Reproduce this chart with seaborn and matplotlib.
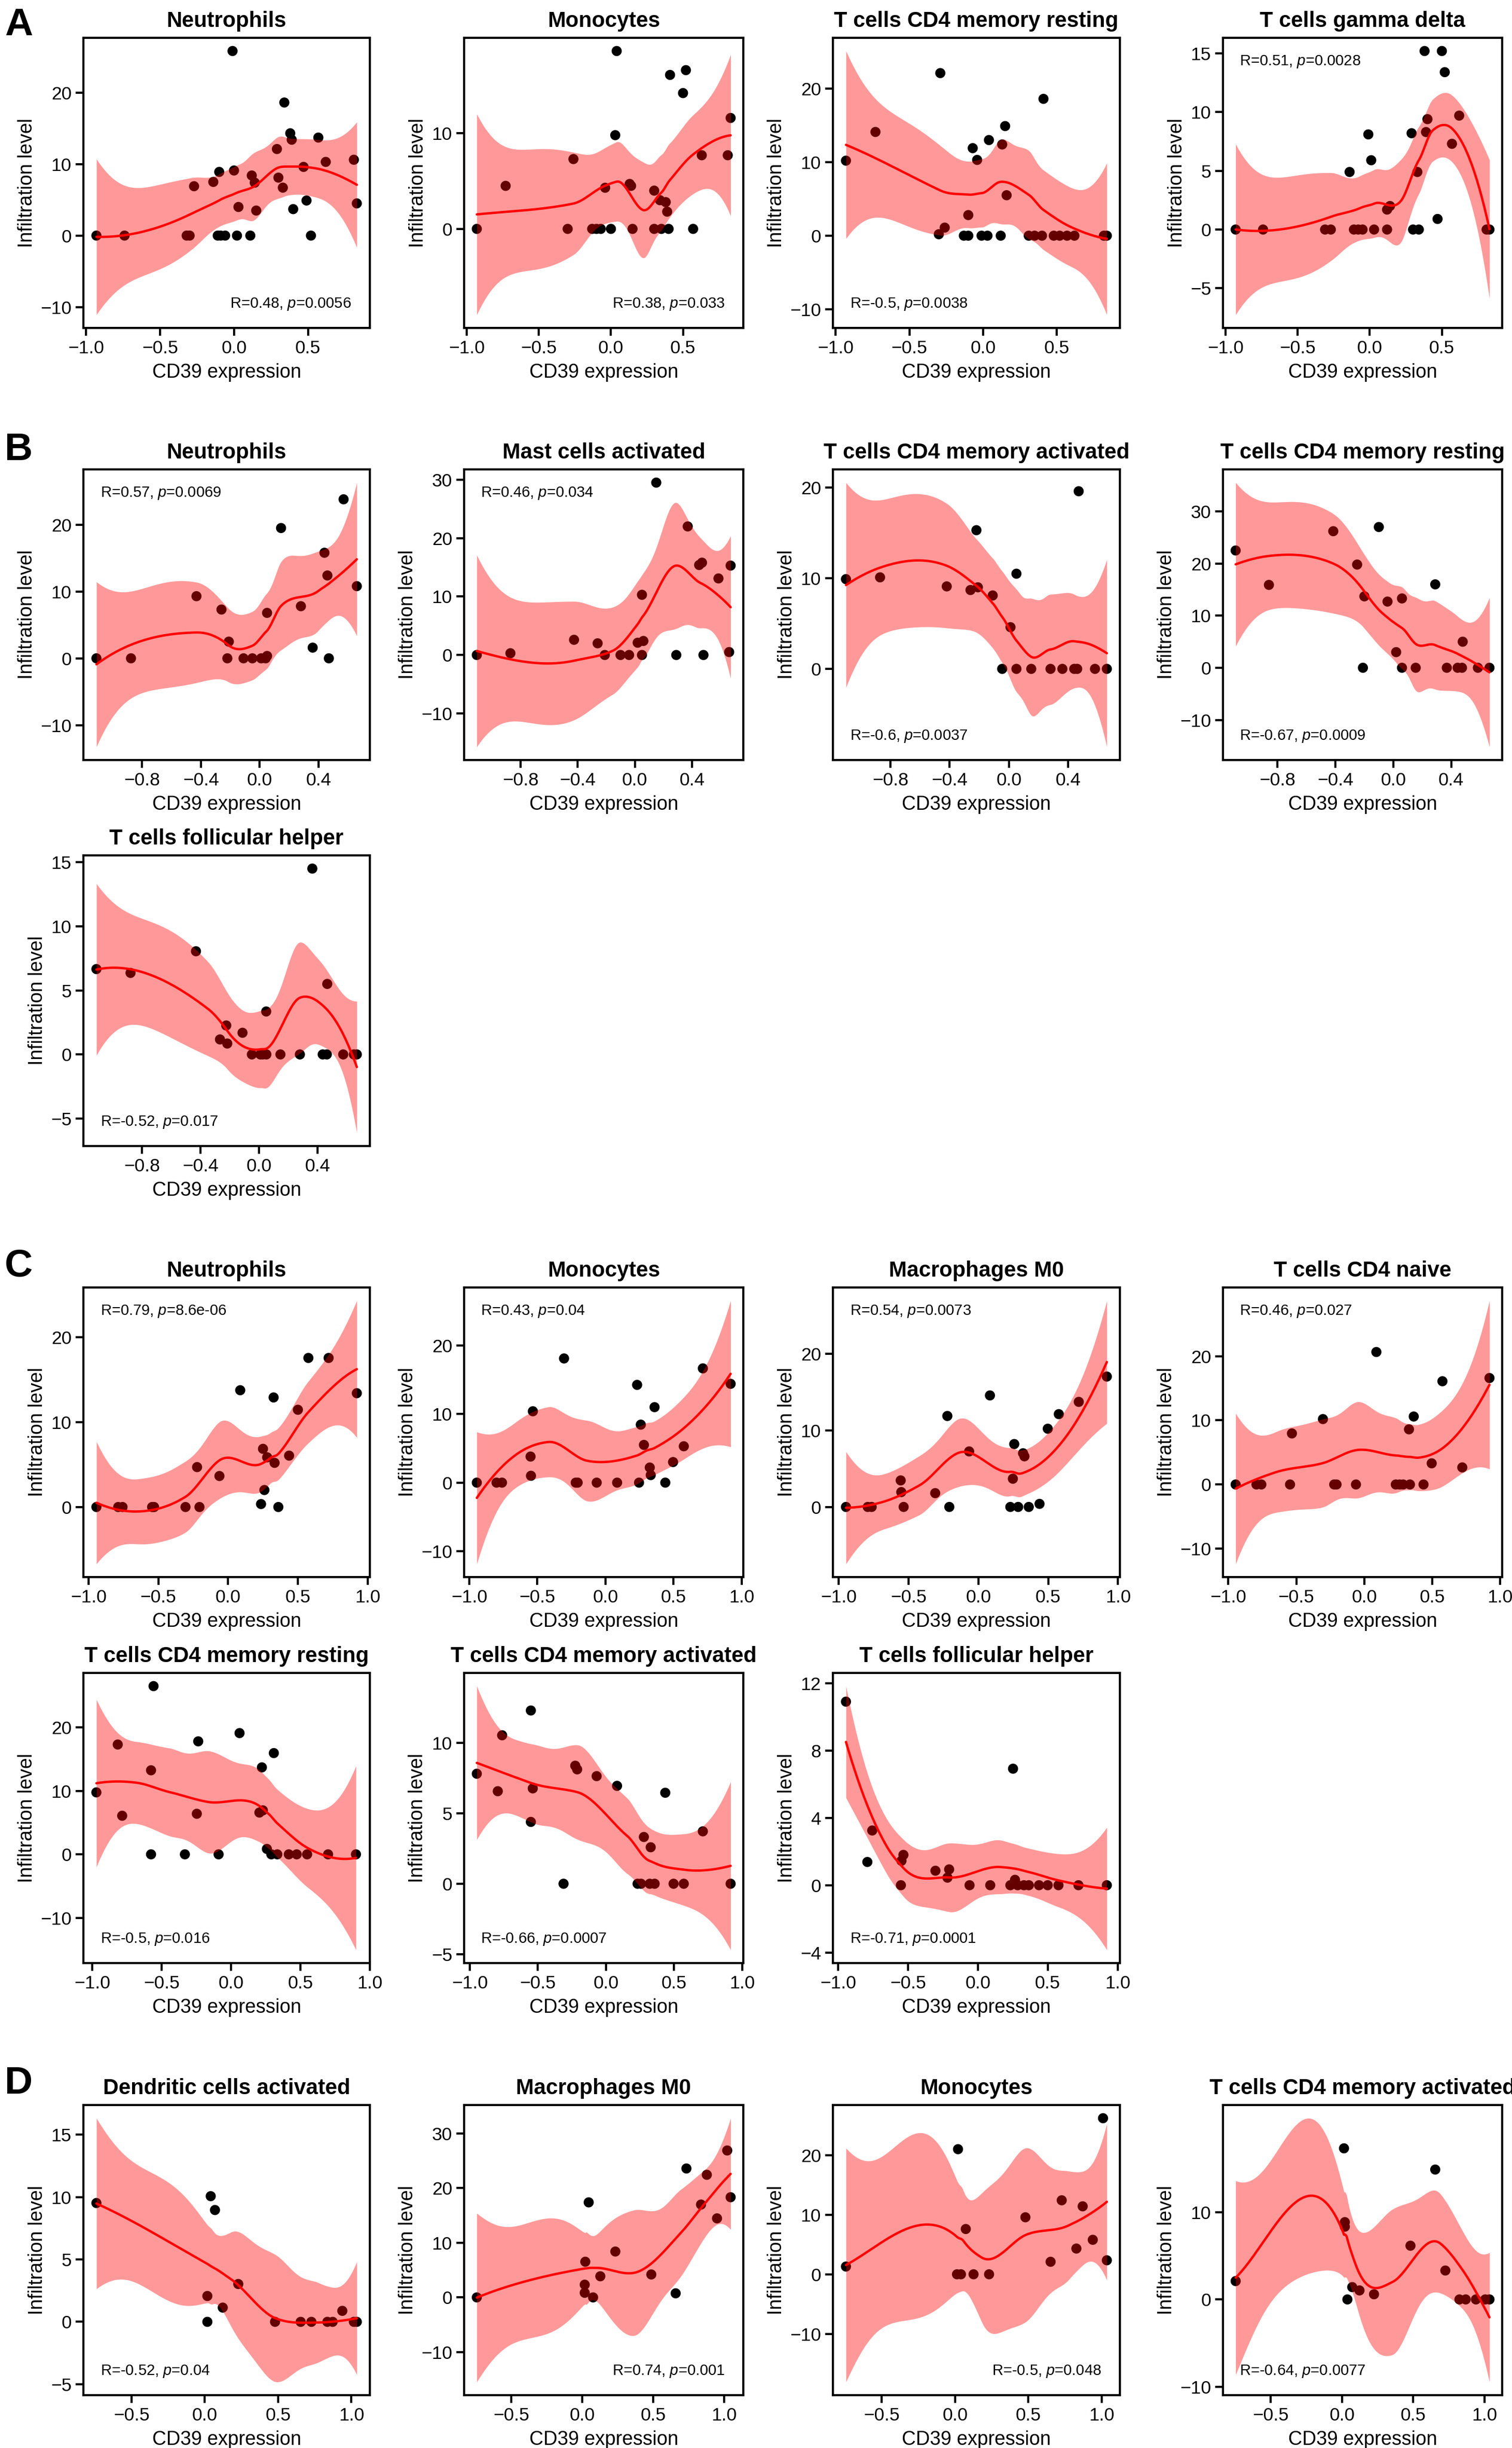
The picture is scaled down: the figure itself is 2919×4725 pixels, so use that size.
import numpy as np
import pandas as pd
import seaborn as sns
import matplotlib
matplotlib.use("Agg")
import matplotlib.pyplot as plt

# ---- data (CD39 expression vs infiltration level) ----
# A
a1_x = [-0.93, -0.74, -0.32, -0.30, -0.27, -0.14, -0.10, -0.11, -0.09, -0.06, 0.00, -0.01, 0.02, 0.03, 0.11, 0.12,
        0.14, 0.15, 0.29, 0.30, 0.33, 0.34, 0.38, 0.39, 0.40, 0.47, 0.49, 0.52, 0.57, 0.62, 0.81, 0.83]
a1_y = [0, 0, 0, 0, 6.9, 7.5, 8.9, 0, 0, 0, 9.1, 25.8, 0, 4.0, 0, 8.4,
        7.4, 3.5, 12.1, 8.1, 6.7, 18.6, 14.3, 13.4, 3.7, 9.6, 4.9, 0, 13.7, 10.3, 10.6, 4.5]
a2_x = [-0.93, -0.73, -0.30, -0.26, -0.13, -0.10, -0.07, -0.04, 0.00, 0.03, 0.04, 0.13, 0.14, 0.15,
        0.30, 0.30, 0.34, 0.35, 0.38, 0.39, 0.40, 0.41, 0.50, 0.52, 0.57, 0.63, 0.81, 0.83]
a2_y = [0, 4.5, 0, 7.3, 0, 0, 0, 4.3, 0, 9.8, 18.6, 4.7, 4.5, 0,
        0, 4.0, 3.0, 0, 2.8, 1.8, 0, 16.1, 14.2, 16.6, 0, 7.7, 7.7, 11.6]
a3_x = [-0.93, -0.73, -0.30, -0.29, -0.26, -0.13, -0.10, -0.10, -0.07, -0.04, -0.01, 0.03, 0.04, 0.12,
        0.13, 0.15, 0.16, 0.31, 0.35, 0.40, 0.41, 0.48, 0.52, 0.57, 0.62, 0.82, 0.84]
a3_y = [10.2, 14.1, 0.2, 22.1, 1.1, 0, 0, 2.8, 11.9, 10.3, 0, 0, 13.0, 0,
        12.4, 14.9, 5.5, 0, 0, 0, 18.6, 0, 0, 0, 0, 0, 0]
a4_x = [-0.93, -0.74, -0.31, -0.27, -0.14, -0.11, -0.08, -0.05, -0.01, 0.01, 0.03, 0.12, 0.12, 0.14,
        0.29, 0.30, 0.33, 0.34, 0.38, 0.39, 0.40, 0.47, 0.50, 0.52, 0.57, 0.62, 0.81, 0.83]
a4_y = [0, 0, 0, 0, 4.9, 0, 0, 0, 8.1, 5.9, 0, 0, 1.7, 2.0,
        8.2, 0, 4.9, 0, 15.2, 8.3, 9.4, 0.9, 15.2, 13.4, 7.3, 9.7, 0, 0]
# B
b1_x = [-1.11, -0.875, -0.43, -0.26, -0.21, -0.22, -0.11, -0.05, 0.01, 0.04,
        0.05, 0.05, 0.145, 0.28, 0.36, 0.44, 0.46, 0.47, 0.57, 0.66]
b1_y = [0, 0, 9.3, 7.3, 2.5, 0, 0, 0, 0, 0, 0.35, 6.8, 19.5, 7.8, 1.6, 15.8, 12.4, 0, 23.8, 10.8]
b2_x = [-1.105, -0.87, -0.425, -0.26, -0.21, -0.10, -0.04, 0.02, 0.05, 0.06,
        0.05, 0.15, 0.29, 0.37, 0.45, 0.47, 0.48, 0.585, 0.66, 0.67]
b2_y = [0, 0.3, 2.6, 2.0, 0, 0, 0, 2.1, 0, 2.4, 10.3, 29.5, 0, 22.0, 15.4, 15.8, 0, 13.1, 0.5, 15.3]
b3_x = [-1.10, -0.87, -0.42, -0.26, -0.22, -0.21, -0.11, -0.046, 0.01, 0.05,
        0.05, 0.15, 0.28, 0.36, 0.44, 0.46, 0.47, 0.58, 0.66]
b3_y = [9.9, 10.1, 9.1, 8.7, 15.3, 9.0, 8.1, 0, 4.6, 10.5, 0, 0, 0, 0, 0, 0, 19.6, 0, 0]
b4_x = [-1.09, -0.86, -0.415, -0.25, -0.21, -0.20, -0.10, -0.04, 0.02, 0.06,
        0.06, 0.155, 0.29, 0.37, 0.445, 0.475, 0.48, 0.585, 0.665]
b4_y = [22.5, 15.9, 26.2, 19.8, 0, 13.7, 27.0, 12.7, 3.0, 13.3, 0, 0, 16.0, 0, 0, 0, 5.0, 0, 0]
b5_x = [-1.11, -0.877, -0.43, -0.266, -0.223, -0.216, -0.112, -0.048, 0.01, 0.026, 0.051,
        0.05, 0.147, 0.28, 0.365, 0.436, 0.464, 0.467, 0.576, 0.649, 0.669]
b5_y = [6.66, 6.36, 8.05, 1.17, 2.26, 0.85, 1.69, 0, 0, 0, 0, 3.35, 0, 0, 14.5, 0, 0, 5.5, 0, 0, 0]
# C
c1_x = [-0.943, -0.787, -0.756, -0.544, -0.53, -0.305, -0.222, -0.205, -0.062, 0.087, 0.236,
        0.25, 0.26, 0.28, 0.326, 0.333, 0.36, 0.437, 0.5, 0.575, 0.72, 0.922]
c1_y = [0, 0, 0, 0, 0, 0, 4.7, 0, 3.65, 13.75, 0.35, 6.85, 2.0, 5.85, 12.9, 5.2, 0, 6.05, 11.45, 17.55, 17.55, 13.4]
c2_x = [-0.945, -0.80, -0.76, -0.547, -0.55, -0.533, -0.304, -0.218, -0.204, -0.064, 0.086, 0.233,
        0.247, 0.26, 0.283, 0.326, 0.333, 0.361, 0.44, 0.497, 0.576, 0.716, 0.92]
c2_y = [0, 0, 0, 1.0, 3.8, 10.4, 18.1, 0, 0, 0, 0, 14.25, 0, 8.45, 5.5, 2.2, 1.1, 11.0, 0, 3.0, 5.3, 16.65, 14.4]
c3_x = [-0.948, -0.792, -0.764, -0.556, -0.552, -0.535, -0.309, -0.222, -0.208, -0.066, 0.083, 0.229,
        0.247, 0.257, 0.285, 0.32, 0.33, 0.361, 0.438, 0.497, 0.576, 0.719, 0.92]
c3_y = [0, 0, 0, 3.46, 1.94, 0, 1.8, 11.86, 0, 7.24, 14.54, 0, 3.68, 8.2, 0, 7.0, 6.6, 0, 0.4, 10.2, 12.1, 13.7, 17.0]
c4_x = [-0.946, -0.793, -0.757, -0.546, -0.532, -0.304, -0.221, -0.204, -0.061, 0.089, 0.232,
        0.26, 0.286, 0.329, 0.336, 0.364, 0.436, 0.496, 0.575, 0.721, 0.921]
c4_y = [0, 0, 0, 0, 7.96, 10.2, 0, 0, 0, 20.66, 0, 0, 0, 8.6, 0, 10.6, 0, 3.3, 16.1, 2.66, 16.6]
c5_x = [-0.971, -0.817, -0.785, -0.577, -0.577, -0.559, -0.333, -0.247, -0.237, -0.09, 0.061, 0.204,
        0.222, 0.229, 0.258, 0.29, 0.333, 0.308, 0.416, 0.473, 0.548, 0.699, 0.9]
c5_y = [9.76, 17.3, 6.08, 13.24, 0, 26.5, 0, 6.39, 17.8, 0, 19.1, 6.58, 13.7, 6.93, 0.85, 0, 0, 15.95,
        0, 0, 0, 0, 0]
c6_x = [-0.948, -0.794, -0.762, -0.551, -0.551, -0.537, -0.311, -0.225, -0.211, -0.068, 0.082,
        0.233, 0.258, 0.279, 0.329, 0.322, 0.358, 0.436, 0.497, 0.572, 0.712, 0.916]
c6_y = [7.81, 6.57, 10.54, 12.3, 4.39, 6.77, 0, 8.38, 8.12, 7.64, 6.95, 0, 0, 3.32, 2.59, 0, 0, 6.46, 0, 0, 3.72, 0]
c7_x = [-0.943, -0.79, -0.755, -0.55, -0.546, -0.532, -0.303, -0.217, -0.205, -0.059, 0.089,
        0.233, 0.252, 0.266, 0.285, 0.33, 0.365, 0.438, 0.5, 0.577, 0.72, 0.923]
c7_y = [10.9, 1.38, 3.25, 0, 1.45, 1.8, 0.86, 0.45, 0.94, 0, 0, 0, 6.92, 0.32, 0, 0, 0, 0, 0, 0, 0, 0]
# D
d1_x = [-0.74, 0.017, 0.017, 0.04, 0.069, 0.122, 0.228, 0.479, 0.654, 0.727, 0.836, 0.872, 0.938, 1.017, 1.037]
d1_y = [9.52, 0, 2.07, 10.07, 8.96, 1.14, 3.03, 0, 0, 0, 0, 0, 0.88, 0, 0]
d2_x = [-0.745, 0.017, 0.017, 0.021, 0.045, 0.076, 0.127, 0.233, 0.487, 0.659, 0.735, 0.838, 0.879,
        0.951, 1.023, 1.047]
d2_y = [0, 0.84, 2.33, 6.53, 17.4, 0, 3.87, 8.4, 4.2, 0.75, 23.6, 17.0, 22.45, 14.47, 26.9, 18.34]
d3_x = [-0.745, 0.013, 0.04, 0.02, 0.073, 0.126, 0.232, 0.48, 0.652, 0.728, 0.828, 0.871, 0.94, 1.01, 1.036]
d3_y = [1.3, 0, 0, 21.0, 7.6, 0, 0, 9.57, 2.1, 12.42, 4.32, 11.41, 5.79, 26.2, 2.35]
d4_x = [-0.747, 0.014, 0.02, 0.02, 0.038, 0.072, 0.123, 0.225, 0.481, 0.655, 0.726, 0.825, 0.869,
        0.941, 1.006, 1.036]
d4_y = [2.1, 17.3, 8.85, 8.33, 0, 1.41, 1.03, 0.59, 6.15, 14.87, 3.31, 0, 0, 0, 0, 0]

titles = ["Neutrophils", "Monocytes", "T cells CD4 memory resting", "T cells gamma delta",
          "Neutrophils", "Mast cells activated", "T cells CD4 memory activated", "T cells CD4 memory resting",
          "T cells follicular helper",
          "Neutrophils", "Monocytes", "Macrophages M0", "T cells CD4 naive",
          "T cells CD4 memory resting", "T cells CD4 memory activated", "T cells follicular helper",
          "Dendritic cells activated", "Macrophages M0", "Monocytes", "T cells CD4 memory activated"]
stats = ["R=0.48, $\\mathit{p}$=0.0056", "R=0.38, $\\mathit{p}$=0.033", "R=-0.5, $\\mathit{p}$=0.0038",
         "R=0.51, $\\mathit{p}$=0.0028",
         "R=0.57, $\\mathit{p}$=0.0069", "R=0.46, $\\mathit{p}$=0.034", "R=-0.6, $\\mathit{p}$=0.0037",
         "R=-0.67, $\\mathit{p}$=0.0009", "R=-0.52, $\\mathit{p}$=0.017",
         "R=0.79, $\\mathit{p}$=8.6e-06", "R=0.43, $\\mathit{p}$=0.04", "R=0.54, $\\mathit{p}$=0.0073",
         "R=0.46, $\\mathit{p}$=0.027",
         "R=-0.5, $\\mathit{p}$=0.016", "R=-0.66, $\\mathit{p}$=0.0007", "R=-0.71, $\\mathit{p}$=0.0001",
         "R=-0.52, $\\mathit{p}$=0.04", "R=0.74, $\\mathit{p}$=0.001", "R=-0.5, $\\mathit{p}$=0.048",
         "R=-0.64, $\\mathit{p}$=0.0077"]
xs_data = [a1_x, a2_x, a3_x, a4_x, b1_x, b2_x, b3_x, b4_x, b5_x,
           c1_x, c2_x, c3_x, c4_x, c5_x, c6_x, c7_x, d1_x, d2_x, d3_x, d4_x]
ys_data = [a1_y, a2_y, a3_y, a4_y, b1_y, b2_y, b3_y, b4_y, b5_y,
           c1_y, c2_y, c3_y, c4_y, c5_y, c6_y, c7_y, d1_y, d2_y, d3_y, d4_y]

xt_a = [-1.0, -0.5, 0.0, 0.5]
xt_b = [-0.8, -0.4, 0.0, 0.4]
xt_c = [-1.0, -0.5, 0.0, 0.5, 1.0]
xt_d = [-0.5, 0.0, 0.5, 1.0]
xticks = [xt_a] * 4 + [xt_b] * 5 + [xt_c] * 7 + [xt_d] * 4
yticks = [[-10, 0, 10, 20], [0, 10], [-10, 0, 10, 20], [-5, 0, 5, 10, 15],
          [-10, 0, 10, 20], [-10, 0, 10, 20, 30], [0, 10, 20], [-10, 0, 10, 20, 30], [-5, 0, 5, 10, 15],
          [0, 10, 20], [-10, 0, 10, 20], [0, 10, 20], [-10, 0, 10, 20],
          [-10, 0, 10, 20], [-5, 0, 5, 10], [-4, 0, 4, 8, 12],
          [-5, 0, 5, 10, 15], [-10, 0, 10, 20, 30], [-10, 0, 10, 20], [-10, 0, 10]]

# ---- layout (pixels of the 2919x4725 canvas) ----
W, H = 2919, 4725
col_l = [161, 896, 1608, 2361]
col_r = [714, 1435, 2162, 2900]
rows = [(73, 633), (906, 1467), (1651, 2212), (2485, 3044), (3229, 3789), (4063, 4623)]
cells = [(0, 0), (0, 1), (0, 2), (0, 3), (1, 0), (1, 1), (1, 2), (1, 3), (2, 0),
         (3, 0), (3, 1), (3, 2), (3, 3), (4, 0), (4, 1), (4, 2), (5, 0), (5, 1), (5, 2), (5, 3)]
stat_pos = ["br", "br", "bl", "tl", "tl", "tl", "bl", "bl", "bl",
            "tl", "tl", "tl", "tl", "bl", "bl", "bl", "bl", "br", "br", "bl"]
letters = [("A", 68), ("B", 888), ("C", 2464), ("D", 4041)]


def t975(df):
    try:
        from scipy import stats as st
        return st.t.ppf(0.975, df)
    except Exception:
        z = 1.959964
        g1 = (z**3 + z) / 4
        g2 = (5 * z**5 + 16 * z**3 + 3 * z) / 96
        g3 = (3 * z**7 + 19 * z**5 + 17 * z**3 - 15 * z) / 384
        return z + g1 / df + g2 / df**2 + g3 / df**3


def loess(x, y, grid, span=0.75, cell=0.2):
    # local quadratic loess, evaluated at kd-tree vertices and blended with cubic Hermite
    x = np.asarray(x, float)
    y = np.asarray(y, float)
    n = len(x)
    q = int(np.floor(n * span))
    fc = int(np.floor(n * span * cell))

    def local(x0):
        d = np.abs(x - x0)
        h = np.sort(d)[q - 1] * 1.0001
        w = np.clip(1 - (d / h) ** 3, 0, None) ** 3
        X = np.column_stack([np.ones(n), x - x0, (x - x0) ** 2])
        XtW = X.T * w
        B = np.linalg.solve(XtW @ X, XtW)
        return B[0], B[1]

    lo_b, hi_b = x.min(), x.max()
    mu = 0.005 * (hi_b - lo_b)
    verts = {lo_b - mu, hi_b + mu}

    def split(pts):
        c = len(pts)
        if c <= fc:
            return
        m = (c - 1) // 2
        cut = pts[m] if c % 2 == 1 else 0.5 * (pts[m] + pts[m + 1])
        if cut <= pts[0] or cut >= pts[-1]:
            return
        verts.add(cut)
        split(pts[:m + 1])
        split(pts[m + 1:])

    split(np.sort(x))
    v = np.array(sorted(verts))
    vals = [local(t) for t in v]
    V0 = np.array([a for a, b in vals])
    V1 = np.array([b for a, b in vals])

    def rows_at(pts):
        out = []
        for t in pts:
            k = min(max(np.searchsorted(v, t) - 1, 0), len(v) - 2)
            hh = v[k + 1] - v[k]
            s = (t - v[k]) / hh
            h00 = 2 * s**3 - 3 * s**2 + 1
            h10 = s**3 - 2 * s**2 + s
            h01 = -2 * s**3 + 3 * s**2
            h11 = s**3 - s**2
            out.append(h00 * V0[k] + h10 * hh * V1[k] + h01 * V0[k + 1] + h11 * hh * V1[k + 1])
        return np.array(out)

    L = rows_at(x)
    Lg = rows_at(grid)
    fit = Lg @ y
    M = np.eye(n) - L
    MtM = M.T @ M
    d1 = np.trace(MtM)
    d2 = np.trace(MtM @ MtM)
    res = y - L @ y
    sigma = np.sqrt(res @ res / d1)
    se = sigma * np.sqrt((Lg ** 2).sum(axis=1))
    tq = t975(d1 ** 2 / d2)
    return fit, fit - tq * se, fit + tq * se


sns.set_style("ticks", {"axes.edgecolor": "black", "xtick.color": "black", "ytick.color": "black",
                        "text.color": "black", "axes.labelcolor": "black"})
plt.rcParams["font.family"] = ["Liberation Sans", "DejaVu Sans"]
plt.rcParams["mathtext.fontset"] = "custom"
plt.rcParams["mathtext.rm"] = "Liberation Sans"
plt.rcParams["mathtext.it"] = "Liberation Sans:italic"
plt.rcParams["axes.unicode_minus"] = True

fig = plt.figure(figsize=(W / 300, H / 300), dpi=300)

for i in range(len(titles)):
    r, c = cells[i]
    top, bot = rows[r]
    ax = fig.add_axes([col_l[c] / W, 1 - bot / H, (col_r[c] - col_l[c]) / W, (bot - top) / H])
    df = pd.DataFrame({"cd39": xs_data[i], "infil": ys_data[i]})
    sns.scatterplot(data=df, x="cd39", y="infil", ax=ax, color="black", s=22,
                    edgecolor="none", linewidth=0, zorder=2, legend=False)
    grid = np.linspace(df.cd39.min(), df.cd39.max(), 200)
    fit, lo, hi = loess(df.cd39, df.infil, grid)
    ax.fill_between(grid, lo, hi, color="red", alpha=0.4, linewidth=0, zorder=3)
    ax.plot(grid, fit, color="red", lw=1.1, zorder=4)

    ax.set_xticks(xticks[i])
    ax.set_yticks(yticks[i])
    ax.set_title(titles[i], fontsize=10, fontweight="bold", pad=5)
    ax.set_xlabel("CD39 expression", fontsize=9, labelpad=3)
    ax.set_ylabel("Infiltration level", fontsize=9, labelpad=2)
    ax.tick_params(length=3.5, width=1.0, labelsize=8.5, pad=2)
    for sp in ax.spines.values():
        sp.set_linewidth(1.0)
        sp.set_color("black")

    pos = stat_pos[i]
    tx = 0.06 if pos[1] == "l" else 0.935
    ty = 0.055 if pos[0] == "b" else 0.945
    ax.text(tx, ty, stats[i], transform=ax.transAxes, fontsize=7,
            ha="left" if pos[1] == "l" else "right",
            va="bottom" if pos[0] == "b" else "top", zorder=5)

for lab, base in letters:
    fig.text(9 / W, 1 - base / H, lab, fontsize=18, fontweight="bold", ha="left", va="baseline")

fig.savefig("out.png", dpi=300)
